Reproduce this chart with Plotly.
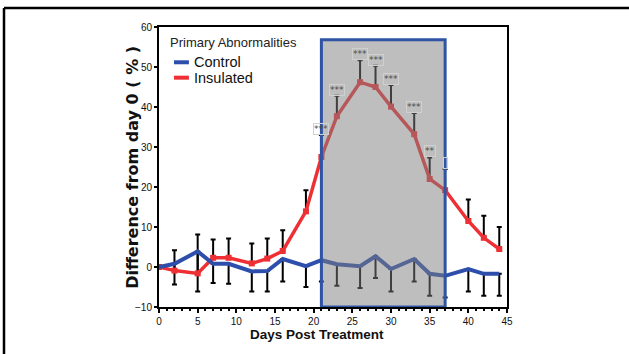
import plotly.graph_objects as go

# ---- data ----
days = [0, 2, 5, 7, 9, 12, 14, 16, 19, 21, 23, 26, 28, 30, 33, 35, 37, 40, 42, 44]
control = [0.0, 0.8, 3.9, 0.8, 0.8, -1.1, -1.0, 2.0, 0.2, 1.7, 0.7, 0.2, 2.7, -0.5, 2.0, -1.7, -2.2, -0.5, -1.7, -1.7]
control_err = [0.0, 5.2, 10.0, 4.8, 5.0, 5.0, 5.1, 5.6, 5.2, 5.3, 5.4, 5.45, 5.45, 5.6, 5.6, 5.5, 5.4, 5.6, 5.5, 5.5]
insulated = [0.0, -0.9, -1.6, 2.3, 2.3, 0.9, 2.1, 4.0, 13.9, 27.5, 37.7, 46.2, 45.0, 40.1, 33.2, 22.0, 19.2, 11.5, 7.3, 4.5]
insulated_err = [0.0, 5.1, 9.7, 4.6, 4.8, 5.0, 5.0, 5.2, 5.3, 5.5, 5.1, 5.5, 5.3, 5.4, 5.3, 5.4, 5.3, 5.4, 5.5, 5.5]
sig_days = [21, 23, 26, 28, 30, 33, 35, 37]
sig_labels = ["***", "***", "***", "***", "***", "***", "**", "&nbsp;"]
window_days = [21, 37]
window_top = 56.8
series_names = ["Control", "Insulated"]
legend_title = "Primary Abnormalities"
x_ticks = [0, 5, 10, 15, 20, 25, 30, 35, 40, 45]
y_ticks = [-10, 0, 10, 20, 30, 40, 50, 60]

RED = "#ee3035"
BLUE = "#2e4eab"
FONT = "Liberation Sans, Arial, sans-serif"

def bars(vals):
    return [v if v > 0 else None for v in vals]

fig = go.Figure()

# error bars (drawn beneath lines)
fig.add_trace(go.Scatter(
    x=days, y=insulated, mode="markers", marker=dict(opacity=0, color=RED),
    error_y=dict(type="data", symmetric=False, array=bars(insulated_err),
                 arrayminus=[0] * len(days), color="black", thickness=2, width=2.5),
    showlegend=False, hoverinfo="skip"))
fig.add_trace(go.Scatter(
    x=days, y=control, mode="markers", marker=dict(opacity=0, color=BLUE),
    error_y=dict(type="data", symmetric=False, array=[0] * len(days),
                 arrayminus=bars(control_err), color="black", thickness=2, width=2.5),
    showlegend=False, hoverinfo="skip"))

# lines
fig.add_trace(go.Scatter(
    x=days, y=insulated, mode="lines+markers", name=series_names[1],
    line=dict(color=RED, width=3.5), marker=dict(symbol="square", size=6, color=RED),
    showlegend=False))
fig.add_trace(go.Scatter(
    x=days, y=control, mode="lines", name=series_names[0],
    line=dict(color=BLUE, width=4), showlegend=False))

# shaded window
fig.add_shape(type="rect", xref="x", yref="y",
              x0=window_days[0], x1=window_days[1], y0=-10, y1=window_top,
              fillcolor="rgba(125,125,125,0.5)", line=dict(color="#2f54a3", width=3),
              layer="above")

# significance labels
for d, lab in zip(sig_days, sig_labels):
    i = days.index(d)
    fig.add_annotation(x=d, y=insulated[i] + insulated_err[i], xref="x", yref="y",
                       text=lab, showarrow=False, yanchor="bottom", yshift=0,
                       font=dict(family="DejaVu Sans, sans-serif", size=9, color="#4a4a4a"),
                       bordercolor="#d0d0d0", borderwidth=1, borderpad=0)

# custom legend
fig.add_annotation(x=0.025, y=0.944, xref="paper", yref="paper", text=legend_title,
                   showarrow=False, xanchor="left", yanchor="middle",
                   font=dict(family=FONT, size=13, color="#222222"))
for nm, col, yy in [(series_names[0], BLUE, 0.874), (series_names[1], RED, 0.819)]:
    fig.add_shape(type="line", xref="paper", yref="paper", x0=0.043, x1=0.086, y0=yy, y1=yy,
                  line=dict(color=col, width=4))
    fig.add_annotation(x=0.094, y=yy, xref="paper", yref="paper", text=nm, showarrow=False,
                       xanchor="left", yanchor="middle",
                       font=dict(family=FONT, size=14.5, color="#111111"))

# axis titles
fig.add_annotation(x=-0.078, y=0.50, xref="paper", yref="paper",
                   text="<b>Difference from day 0 ( % )</b>", textangle=-90, showarrow=False,
                   xanchor="center", yanchor="middle",
                   font=dict(family="DejaVu Sans, Verdana, sans-serif", size=16, color="#111111"))
fig.add_annotation(x=0.454, y=-0.097, xref="paper", yref="paper",
                   text="<b>Days Post Treatment</b>", showarrow=False,
                   xanchor="center", yanchor="middle",
                   font=dict(family=FONT, size=13.5, color="#111111"))

# outer frame lines
fig.add_shape(type="line", xref="paper", yref="paper", x0=-0.4454, x1=1.5, y0=1.068, y1=1.068,
              line=dict(color="black", width=2.5))
fig.add_shape(type="line", xref="paper", yref="paper", x0=-0.4454, x1=-0.4454, y0=-0.3, y1=1.068,
              line=dict(color="black", width=2.5))

fig.update_xaxes(range=[0, 45], tickvals=x_ticks, ticks="outside", ticklen=4, tickwidth=2,
                 tickcolor="black", showline=True, linecolor="black", linewidth=2, mirror=True,
                 showgrid=False, zeroline=False,
                 minor=dict(dtick=1, ticks="outside", ticklen=2, tickwidth=1.5, tickcolor="black"),
                 tickfont=dict(family=FONT, size=10, color="#111111"),
                 tickprefix="<b>", ticksuffix="</b>")
fig.update_yaxes(range=[-10, 60], tickvals=y_ticks, ticks="outside", ticklen=3, tickwidth=2,
                 tickcolor="black", showline=True, linecolor="black", linewidth=2, mirror=True,
                 showgrid=False, zeroline=False,
                 tickfont=dict(family=FONT, size=10, color="#111111"),
                 tickprefix="<b>", ticksuffix="</b>")

fig.update_layout(width=629, height=354, margin=dict(l=159, r=122, t=27, b=47),
                  plot_bgcolor="white", paper_bgcolor="white", showlegend=False,
                  font=dict(family=FONT, size=10))

fig.write_html("out.html", config={"displayModeBar": False},
               post_script="document.body.style.margin='0';document.body.style.overflow='hidden';")
